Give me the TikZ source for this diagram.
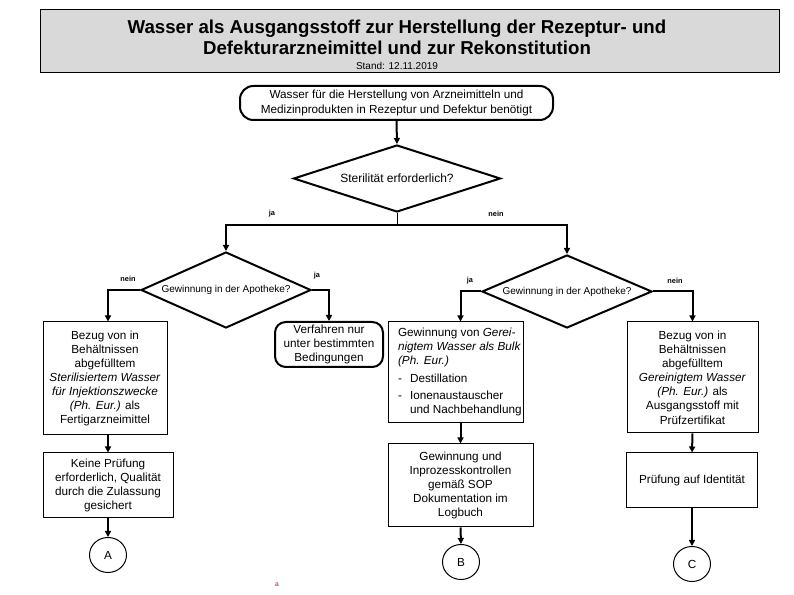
\documentclass[tikz,border=0pt]{standalone}
\usepackage{fontspec}
\setmainfont{Liberation Sans}
\usetikzlibrary{shapes.geometric,arrows.meta}
\definecolor{titlegray}{RGB}{217,217,217}
\definecolor{markred}{RGB}{150,30,40}
\begin{document}
\begin{tikzpicture}[x=0.75pt,y=-0.75pt,
  sz/.style 2 args={minimum width=#1*0.75pt,minimum height=#2*0.75pt},
  body/.style={font=\fontsize{8.8}{10.6}\selectfont, align=center, inner sep=0pt},
  rbox/.style={draw, line width=0.75pt, body},
  term/.style={draw, line width=1.5pt, rounded corners=8pt, body},
  dec/.style={draw, diamond, aspect=3, line width=1.5pt, inner sep=0pt},
  conn/.style={draw, ellipse, line width=0.75pt, body},
  arr/.style={line width=1.5pt, -{Triangle[length=4.5pt,width=4.5pt]}},
  thinline/.style={line width=0.75pt},
  lab/.style={font=\fontsize{5.5}{6}\selectfont\bfseries, inner sep=0pt},
]
\useasboundingbox (0,0) rectangle (794,595);

% title
\node[draw, line width=0.75pt, fill=titlegray, sz={739}{63}, inner sep=0pt] (title) at (409.5,41.5) {};
\node[font=\fontsize{14}{16}\selectfont\bfseries, anchor=base, inner sep=0pt] (t1) at (397,33.7) {Wasser als Ausgangsstoff zur Herstellung der Rezeptur- und};
\node[font=\fontsize{14}{16}\selectfont\bfseries, anchor=base, inner sep=0pt] (t2) at (397,54.7) {Defekturarzneimittel und zur Rekonstitution};
\node[font=\fontsize{7.5}{8}\selectfont, anchor=base, inner sep=0pt] (stand) at (397,69.6) {Stand: 12.11.2019};

% start
\node[term, rounded corners=10pt, sz={313}{34}] (start) at (396.5,103) {Wasser für die Herstellung von Arzneimitteln und\\Medizinprodukten in Rezeptur und Defektur benötigt};

% decisions
\node[dec, sz={207}{67}, font=\fontsize{9}{10}\selectfont] (d1) at (397,178.5) {Sterilität erforderlich?};
\node[dec, sz={170}{76}, font=\fontsize{7.5}{8}\selectfont] (d2) at (226,290) {Gewinnung in der Apotheke?};
\node[dec, sz={170}{73}, font=\fontsize{7.5}{8}\selectfont] (d3) at (567,291.5) {Gewinnung in der Apotheke?};

\coordinate (j0) at (397,225);

% left column
\node[rbox, sz={124}{113}] (b1) at (105,378.5) {Bezug von in\\Behältnissen\\abgefülltem\\\textit{Sterilisiertem Wasser}\\\textit{für Injektionszwecke}\\\textit{(Ph. Eur.)} als\\Fertigarzneimittel};
\node[rbox, sz={130}{65}] (b2) at (108,485.5) {Keine Prüfung\\erforderlich, Qualität\\durch die Zulassung\\gesichert};
\node[conn, sz={37}{35}] (cA) at (108,555) {A};

% Verfahren
\node[term, sz={108}{45}] (v) at (329,344.5) {Verfahren nur\\unter bestimmten\\Bedingungen};

% middle column
\node[rbox, sz={135}{101}] (g1) at (455.5,372.5) {\begin{tabular}{@{\hspace{6.5pt}}l@{}}Gewinnung von \textit{Gerei-}\\\textit{nigtem Wasser als Bulk}\\\textit{(Ph. Eur.)}\\[2.5pt]\makebox[9pt][l]{-}Destillation\\[2.5pt]\makebox[9pt][l]{-}Ionenaustauscher\\\hspace*{9pt}und Nachbehandlung\end{tabular}};
\node[rbox, sz={145}{83}] (g2) at (460.5,485.5) {Gewinnung und\\Inprozesskontrollen\\gemäß SOP\\Dokumentation im\\Logbuch};
\node[conn, sz={37}{35}] (cB) at (461,562) {B};

% right column
\node[rbox, sz={131}{111}] (r1) at (692.5,377.5) {Bezug von in\\Behältnissen\\abgefülltem\\\textit{Gereinigtem Wasser}\\\textit{(Ph. Eur.)} als\\Ausgangsstoff mit\\Prüfzertifikat};
\node[rbox, sz={131}{55}] (r2) at (692,480.5) {Prüfung auf Identität};
\node[conn, sz={37}{35}] (cC) at (692,564) {C};

% labels
\node[lab] (l1) at (272,214) {ja};
\node[lab] (l2) at (496,214) {nein};
\node[lab] (l3) at (128,279) {nein};
\node[lab] (l4) at (317,276) {ja};
\node[lab] (l5) at (470,281) {ja};
\node[lab] (l6) at (675,281) {nein};

\node[font=\fontsize{5}{6}\selectfont, text=markred, inner sep=0pt] (mark) at (277,585) {a};

% connectors
\draw[arr] (start.south) -- (d1.north);
\draw[thinline] (d1.south) -- (j0);
\draw[arr] (j0) -| (d2.north);
\draw[arr] (j0) -| (d3.north);
\draw[arr] (d2.west) -| (b1.north -| cA.north);
\draw[arr] (b1.south -| b2.north) -- (b2.north);
\draw[arr] (b2.south) -- (cA.north);
\draw[arr] (d2.east) -| (v.north);
\draw[arr] (d3.west) -| (g1.north -| g2.north);
\draw[arr] (g1.south -| g2.north) -- (g2.north);
\draw[arr] (g2.south) -- (cB.north);
\draw[arr] (d3.east) -| (r1.north);
\draw[arr] (r1.south) -- (r2.north);
\draw[arr] (r2.south) -- (cC.north);
\end{tikzpicture}
\end{document}
